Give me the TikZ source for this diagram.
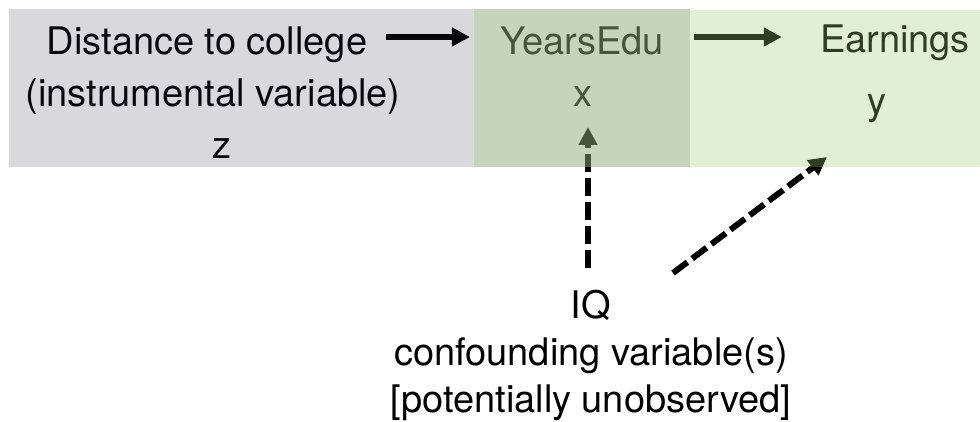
\documentclass[tikz,border=0pt]{standalone}
\usepackage{fontspec}
\setmainfont{TeX Gyre Heros}
\usetikzlibrary{arrows.meta}
\definecolor{boxgray}{RGB}{39,39,72}
\definecolor{boxdark}{RGB}{139,173,121}
\definecolor{boxlight}{RGB}{158,205,118}
\tikzset{
  lbl/.style={anchor=base, align=center, inner sep=2pt, font=\fontsize{38}{52}\selectfont},
  arr/.style={-{Triangle[length=18pt,width=18pt]}, line width=6pt},
  darr/.style={arr, dash pattern=on 18pt off 6pt},
}
\begin{document}
\begin{tikzpicture}[x=1pt, y=-1pt, line join=round]
	\useasboundingbox (0,0) rectangle (980,422);
	\fill[white] (0,0) rectangle (980,422);
	% labels
	\node[lbl] (dist) at (207,55) {Distance to college};
	\node[lbl] (inst) at (213,107) {(instrumental variable)};
	\node[lbl] (zvar) at (222,159) {z};
	\node[lbl] (edu) at (582,55) {YearsEdu};
	\node[lbl] (xvar) at (583,107) {x};
	\node[lbl] (earn) at (895,53) {Earnings};
	\node[lbl] (yvar) at (877,115) {y};
	\node[lbl, inner sep=0pt, font=\fontsize{38}{47}\selectfont] (iq) at (591,412) {IQ\\confounding variable(s)\\{[potentially unobserved]}};
	% arrows
	\draw[arr] ([xshift=17pt,yshift=18pt]dist.base east) -- ([xshift=-28pt,yshift=18pt]edu.base west);
	\draw[arr] ([xshift=28pt,yshift=18pt]edu.base east) -- ([xshift=-36pt,yshift=16pt]earn.base west);
	\draw[darr] ([xshift=-3pt,yshift=144pt]iq.base) -- ([xshift=5pt,yshift=-20pt]xvar.base);
	\draw[darr] ([xshift=82pt,yshift=139pt]iq.base) -- ([xshift=-50pt,yshift=-42pt]yvar.base);
	% boxes on top
	\fill[boxgray, fill opacity=0.18] (9,9) rectangle (474,167);
	\fill[boxdark, fill opacity=0.5] (474,9) rectangle (690,167);
	\fill[boxlight, fill opacity=0.3] (690,10) rectangle (980,167);
\end{tikzpicture}
\end{document}
